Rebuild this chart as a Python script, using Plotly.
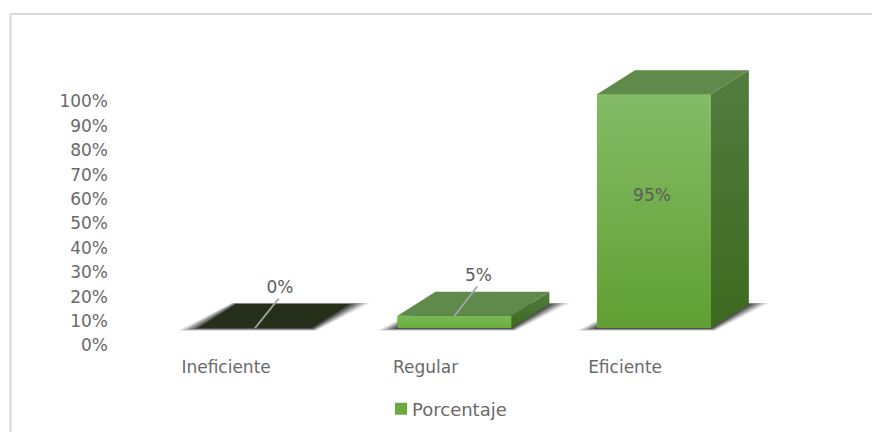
import plotly.graph_objects as go

# Data
categories = ["Ineficiente", "Regular", "Eficiente"]
values = [0, 5, 95]
value_labels = ["0%", "5%", "95%"]
y_ticks = list(range(0, 101, 10))
y_tick_labels = [f"{v}%" for v in y_ticks]
series_name = "Porcentaje"

# Geometry of the fake 3D projection (in axis units)
FLOOR = 7.17
BAR_W = 0.571
BAR_STRETCH = 1.008
DEPTH_X = 0.19
DEPTH_Y = 9.84
PX_X = 199.5
PX_Y = 2.44
TICK_SHIFT = -0.145

TEXT = "#6A6A6A"
FONT = "DejaVu Sans"
FS = 17
TOP_COLORS = ["#252F19", "#5F8A4C", "#5F8A4C"]
FRONT_SCALE = [[0, "#5F9F33"], [0.5, "#73AE4C"], [1, "#84BB67"]]
SMALL_FRONT_SCALE = [[0, "#6BAC40"], [1, "#78BA52"]]
SIDE_SCALE = [[0, "#3C691E"], [1, "#537C40"]]

# Label placement relative to each bar
LABEL_DX = [0.125, 0.12, -0.01]
LABEL_Y = [23.3, 28.3, 61.0]
LEADER = [True, True, False]

fig = go.Figure()

xs = list(range(len(categories)))
fig.add_bar(x=xs, y=[v * BAR_STRETCH for v in values], base=FLOOR, width=BAR_W, name=series_name,
            marker=dict(color="#6BAA3F", line_width=0), showlegend=True, hoverinfo="skip")


def poly(px, py, **kw):
    fig.add_scatter(x=px + px[:1], y=py + py[:1], mode="lines", fill="toself",
                    line=dict(width=0), showlegend=False, hoverinfo="skip", **kw)


# Floor shadows
for i in xs:
    l, r = i - BAR_W / 2, i + BAR_W / 2
    for spread, alpha in [(20, .12), (16, .18), (12, .24), (8, .3), (4, .4)]:
        e = spread / PX_X
        v = 2.2 * (spread / 20 + 0.2) / PX_Y
        poly([l - e, r + e * 0.2, r + DEPTH_X + e, l + DEPTH_X - e * 0.2],
             [FLOOR - v, FLOOR - v, FLOOR + DEPTH_Y + v * .4, FLOOR + DEPTH_Y + v * .4],
             fillcolor=f"rgba(30,30,30,{alpha})")

# 3D faces
for i, v in zip(xs, values):
    l, r = i - BAR_W / 2, i + BAR_W / 2
    top = FLOOR + v * BAR_STRETCH
    if v > 0:
        poly([r, r + DEPTH_X, r + DEPTH_X, r],
             [FLOOR, FLOOR + DEPTH_Y, top + DEPTH_Y, top],
             fillcolor="#4B7A30",
             fillgradient=dict(type="vertical", colorscale=SIDE_SCALE))
        poly([l, r, r, l], [FLOOR, FLOOR, top, top],
             fillcolor="#6BAA3F",
             fillgradient=dict(type="vertical",
                               colorscale=FRONT_SCALE if v > 50 else SMALL_FRONT_SCALE))
    poly([l, r, r + DEPTH_X, l + DEPTH_X], [top, top, top + DEPTH_Y, top + DEPTH_Y],
         fillcolor=TOP_COLORS[i])

# Leader lines
for i, v in enumerate(values):
    if LEADER[i]:
        fig.add_scatter(x=[i, i + LABEL_DX[i] * 0.95], y=[FLOOR + v, LABEL_Y[i] - 4.1],
                        mode="lines", line=dict(color="#A6A6A6", width=1.8),
                        showlegend=False, hoverinfo="skip")

# Data labels
fig.add_scatter(x=[i + d for i, d in zip(xs, LABEL_DX)], y=LABEL_Y, mode="text",
                text=value_labels, textposition="middle center",
                textfont=dict(family=FONT, size=FS, color="#5C5C5C"),
                showlegend=False, hoverinfo="skip")

W, H = 872, 432
PLOT_L, PLOT_R, PLOT_T, PLOT_B = 115, 815, 51, 345.5
xmin = (PLOT_L - 255) / PX_X
xmax = (PLOT_R - 255) / PX_X
ymax = (PLOT_B - PLOT_T) / PX_Y

frame_x = 10.5 / W
frame_y = (H - 14) / H
fig.update_layout(
    width=W, height=H,
    margin=dict(l=0, r=0, t=0, b=0, pad=0, autoexpand=False),
    paper_bgcolor="white", plot_bgcolor="rgba(0,0,0,0)",
    font=dict(family=FONT, size=FS, color=TEXT),
    xaxis=dict(domain=[PLOT_L / W, PLOT_R / W], range=[xmin, xmax], tickmode="array",
               tickvals=[i + TICK_SHIFT for i in xs], ticktext=categories, automargin=False,
               showgrid=False, zeroline=False, showline=False, ticks="",
               ticklabelstandoff=9, tickfont=dict(size=FS)),
    yaxis=dict(domain=[(H - PLOT_B) / H, (H - PLOT_T) / H], range=[0, ymax],
               tickmode="array", tickvals=y_ticks, ticktext=y_tick_labels, automargin=False,
               showgrid=False, zeroline=False, showline=False, ticks="",
               ticklabelstandoff=6, tickfont=dict(size=FS)),
    legend=dict(x=381 / W, y=(H - 409) / H, xanchor="left", yanchor="middle",
                orientation="h", bgcolor="rgba(0,0,0,0)", font=dict(size=18, color=TEXT),
                itemclick=False, itemdoubleclick=False),
    shapes=[
        dict(type="line", xref="paper", yref="paper", x0=frame_x, x1=1,
             y0=frame_y, y1=frame_y, line=dict(color="#D9D9D9", width=2)),
        dict(type="line", xref="paper", yref="paper", x0=frame_x, x1=frame_x,
             y0=frame_y, y1=0, line=dict(color="#D9D9D9", width=2)),
    ],
)

fig.write_html("out.html", config=dict(displayModeBar=False),
               post_script="document.body.style.margin='0';"
                           "document.querySelectorAll('.legendtext').forEach(function(t){"
                           "t.setAttribute('x', parseFloat(t.getAttribute('x')) - 9);});")
